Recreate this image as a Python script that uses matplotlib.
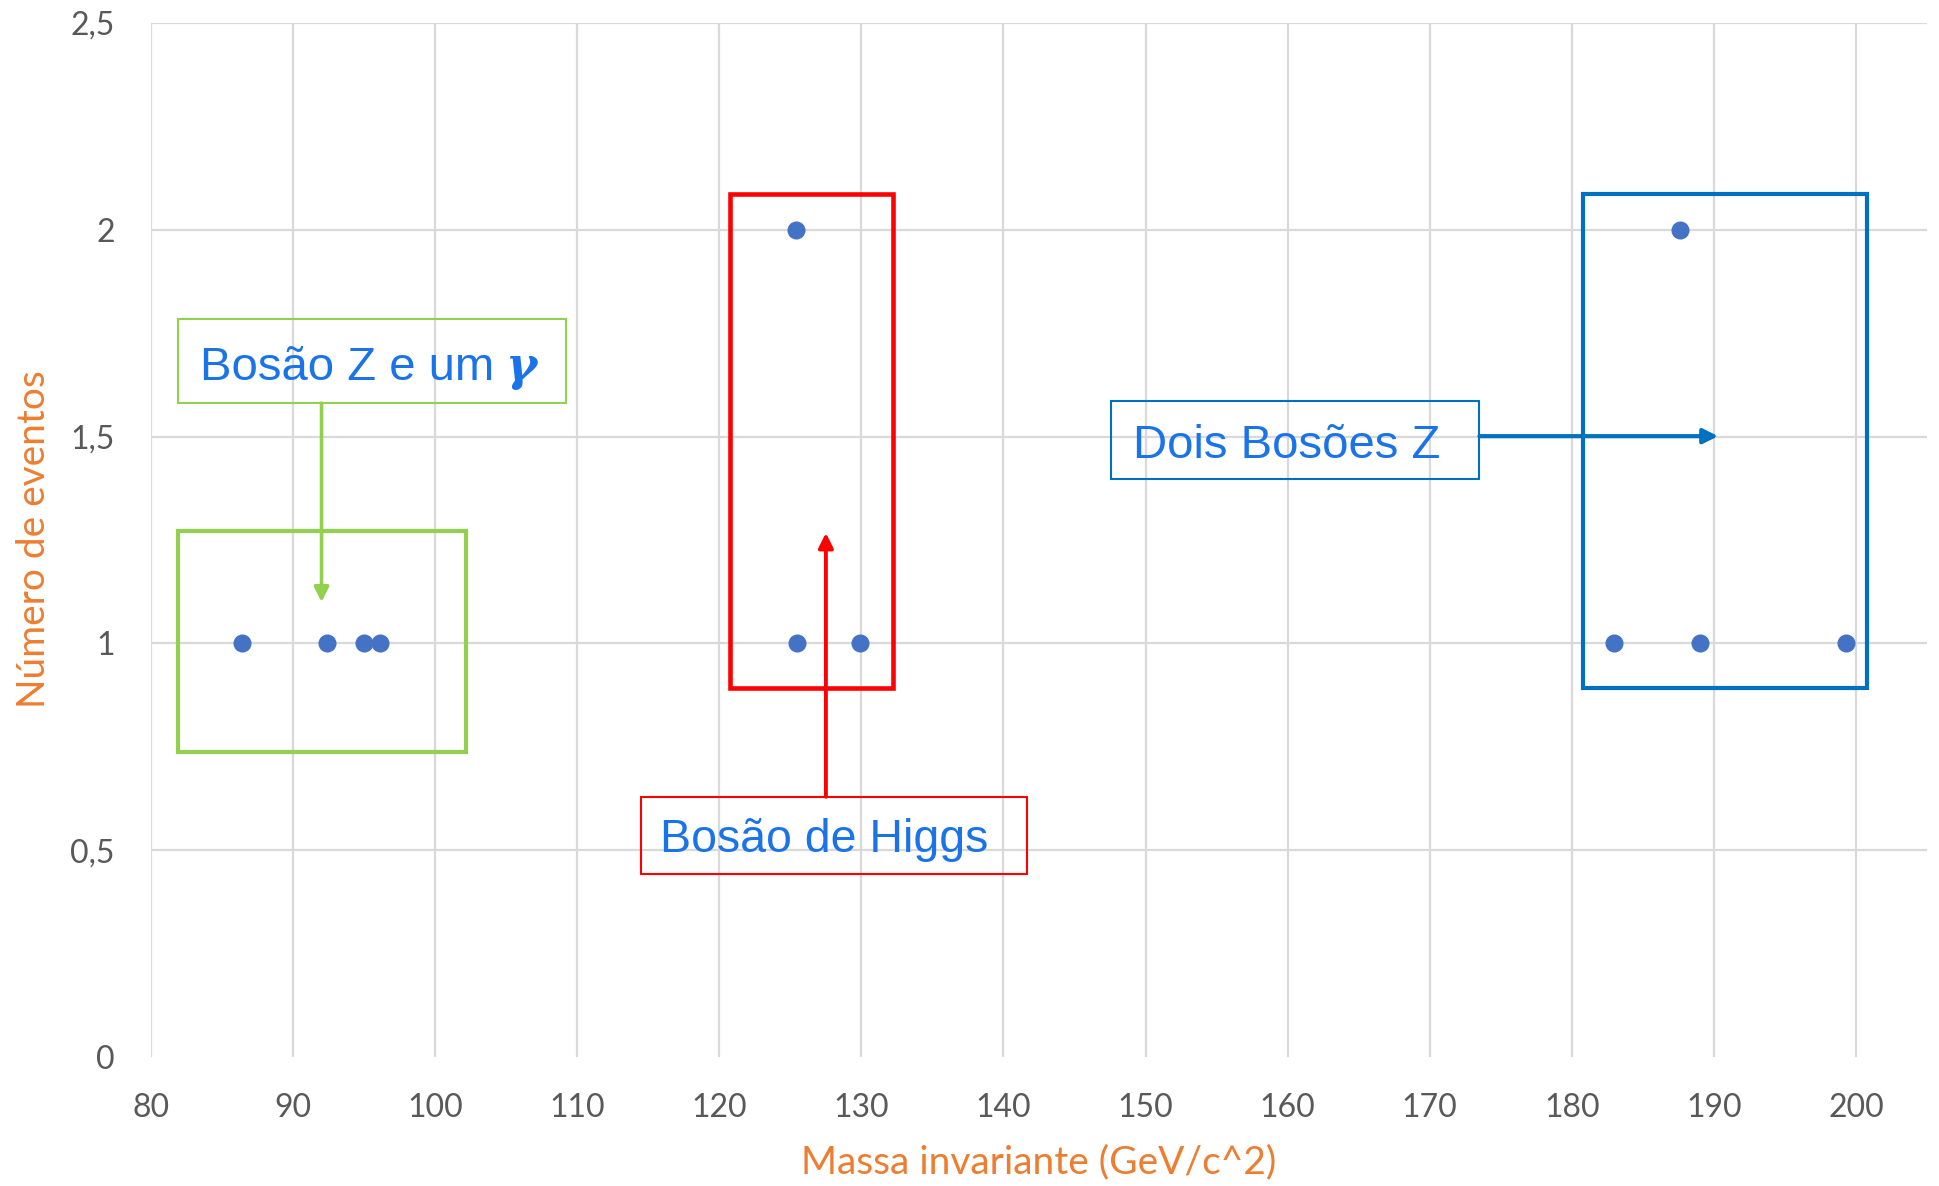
import matplotlib
matplotlib.use("Agg")
import matplotlib.pyplot as plt
from matplotlib.patches import Rectangle

# massa invariante (GeV/c^2) e número de eventos
massa = [86.4, 92.4, 95.0, 96.1, 125.4, 125.5, 129.9, 183.0, 187.6, 189.0, 199.3]
eventos = [1, 1, 1, 1, 2, 1, 1, 1, 2, 1, 1]

x_ticks = list(range(80, 201, 10))
y_ticks = [0, 0.5, 1, 1.5, 2, 2.5]
y_tick_labels = ['0', '0,5', '1', '1,5', '2', '2,5']

tick_font = 'Lato'
label_font = 'Liberation Sans'
grey = '#595959'
orange = '#ED7D31'
txt_blue = '#1A73E8'
green = '#92D050'
red = '#FF0000'
blue = '#0070C0'

fig = plt.figure(figsize=(19.39, 11.86), dpi=100)
ax = fig.add_axes([0.0779, 0.1088, 0.9159, 0.8718])

ax.scatter(massa, eventos, s=13 ** 2, color='#4472C4', zorder=5, clip_on=False, linewidths=0)

ax.set_xlim(80, 205)
ax.set_ylim(0, 2.5)
ax.set_xticks(x_ticks)
ax.set_xticklabels([str(t) for t in x_ticks], fontsize=23, color=grey, family=tick_font)
ax.set_yticks(y_ticks)
ax.set_yticklabels(y_tick_labels, fontsize=23, color=grey, family=tick_font)
ax.tick_params(length=0, pad=26)
for s in ax.spines.values():
    s.set_visible(False)
ax.grid(True, color='#D9D9D9', linewidth=1.6)
ax.set_axisbelow(True)
# no line at y = 0
ax.get_ygridlines()[0].set_visible(False)

fig.text(34 / 1939, 1 - 539 / 1186, 'Número de eventos', rotation=90, ha='center', va='center',
         fontsize=28, color=orange, family=tick_font)
fig.text(1039 / 1939, 1 - 1162 / 1186, 'Massa invariante (GeV/c^2)', ha='center', va='center',
         fontsize=28, color=orange, family=tick_font)


def box(x0, x1, y0, y1, color, lw):
    ax.add_patch(Rectangle((x0, y0), x1 - x0, y1 - y0, fill=False, edgecolor=color,
                           linewidth=lw, zorder=4, clip_on=False, joinstyle='miter'))


def arrow(start, tip, color, lw):
    ax.annotate('', xy=tip, xytext=start,
                arrowprops=dict(arrowstyle='-|>', color=color, lw=lw, shrinkA=0, shrinkB=0,
                                mutation_scale=22), zorder=6)


# Z + gamma
box(81.9, 102.2, 0.737, 1.272, green, 3.0)
box(81.9, 109.2, 1.581, 1.784, green, 1.5)
arrow((92.0, 1.581), (92.0, 1.100), green, 2.6)
ax.text(83.45, 1.637, 'Bosão Z e um ', fontsize=34, color=txt_blue, family=label_font, va='baseline')
ax.text(105.0, 1.637, 'γ', fontsize=34, color=txt_blue, family='DejaVu Serif',
        style='italic', weight='bold', va='baseline')

# Higgs
box(120.75, 132.2, 0.892, 2.087, red, 3.3)
box(114.5, 141.65, 0.442, 0.629, red, 1.5)
arrow((127.5, 0.629), (127.5, 1.267), red, 2.8)
ax.text(115.8, 0.496, 'Bosão de Higgs', fontsize=33.5, color=txt_blue, family=label_font, va='baseline')

# dois Z
box(180.8, 200.8, 0.892, 2.087, blue, 3.0)
box(147.6, 173.5, 1.397, 1.586, blue, 1.5)
arrow((173.5, 1.501), (190.3, 1.501), blue, 3.0)
ax.text(149.1, 1.448, 'Dois Bosões Z', fontsize=34, color=txt_blue, family=label_font, va='baseline')

fig.savefig('out.png', dpi=100)
